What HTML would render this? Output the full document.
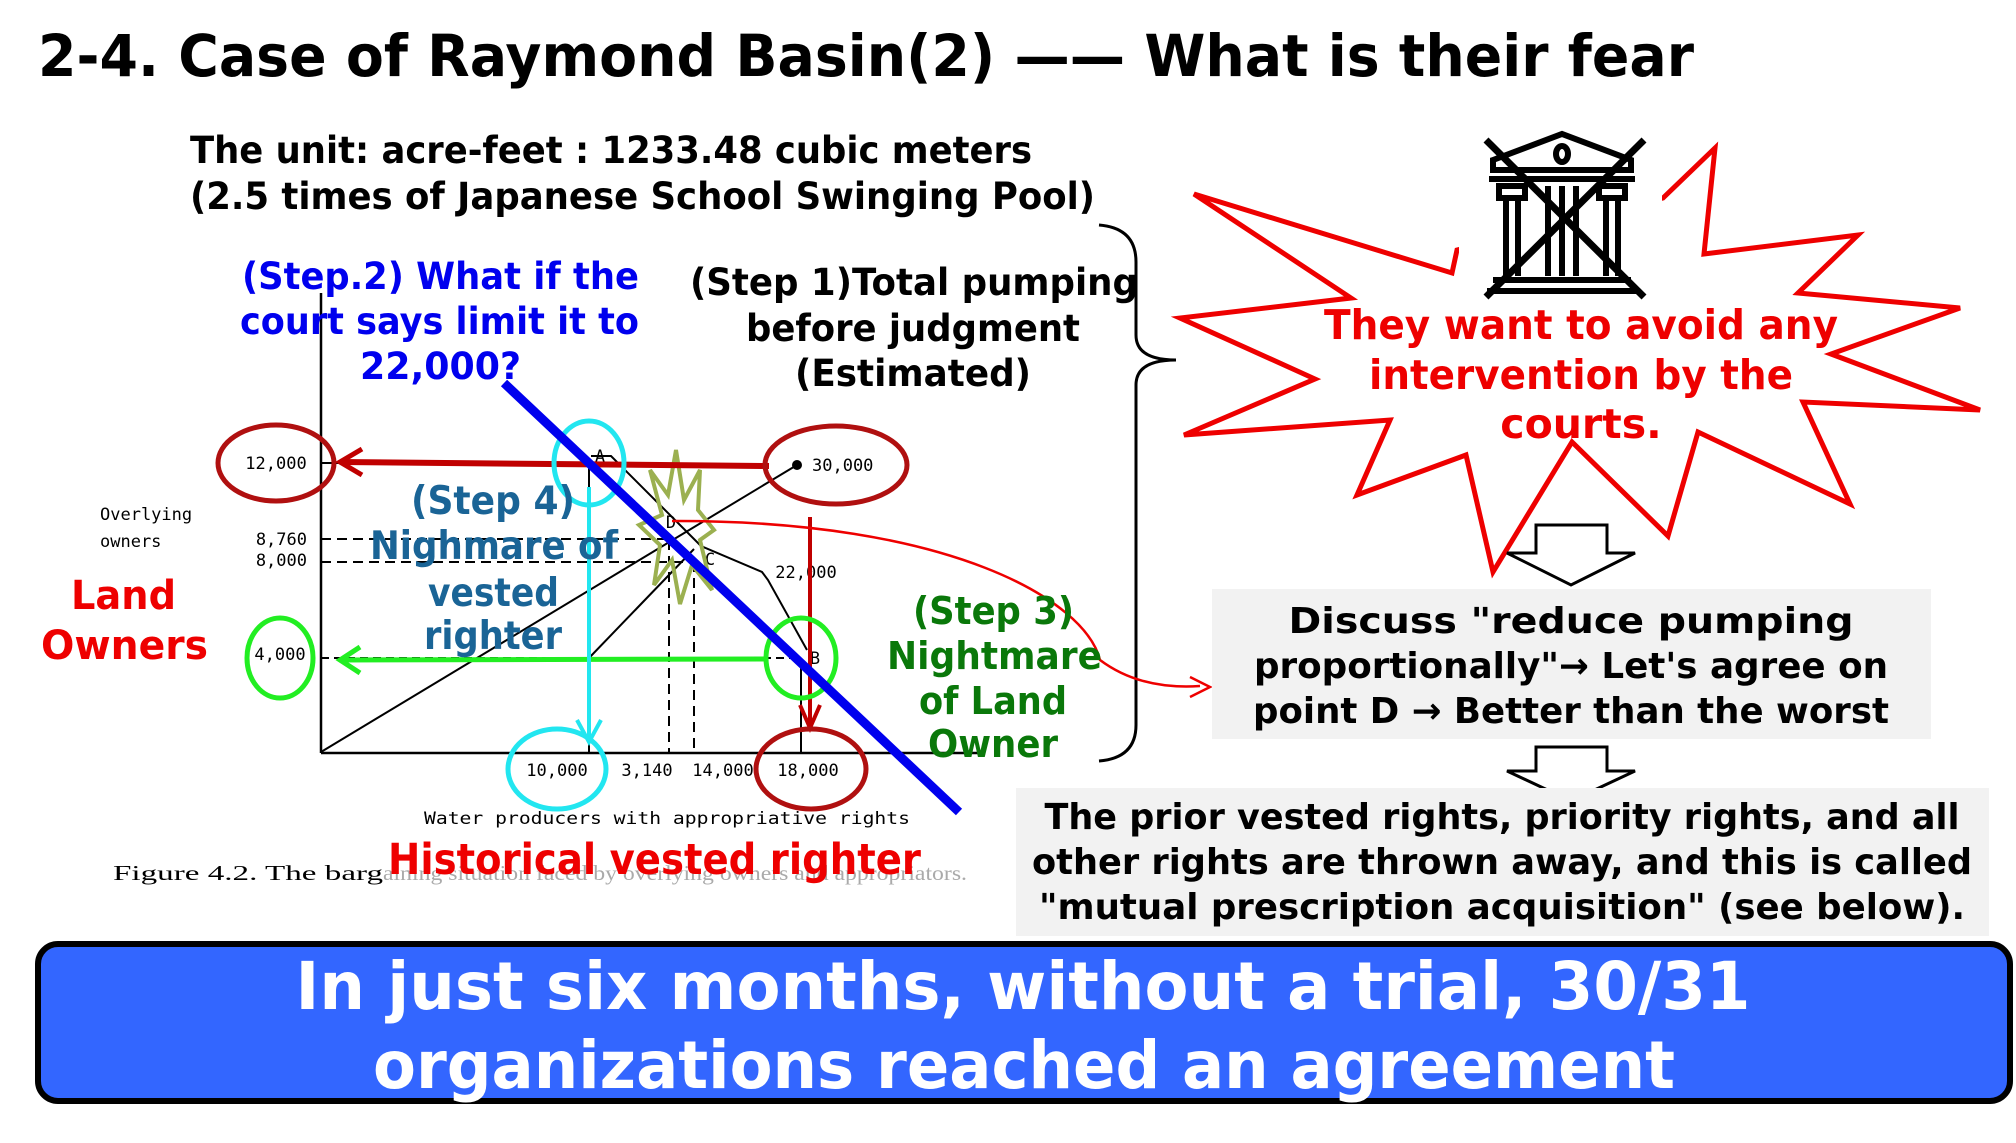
<!DOCTYPE html>
<html><head><meta charset="utf-8"><style>
html,body{margin:0;padding:0;background:#fff;}
svg{display:block;}
text{font-family:"DejaVu Sans","Liberation Sans",sans-serif;font-weight:bold;}
.m{font-family:"DejaVu Sans Mono","Liberation Mono",monospace;font-weight:normal;font-size:17px;}
</style></head><body>
<svg width="2016" height="1143" viewBox="0 0 2016 1143" xmlns="http://www.w3.org/2000/svg">
<text x="38" y="76" font-size="58" textLength="1656" lengthAdjust="spacingAndGlyphs">2-4. Case of Raymond Basin(2) —— What is their fear</text>
<text x="190" y="163" font-size="37" textLength="842" lengthAdjust="spacingAndGlyphs">The unit: acre-feet : 1233.48 cubic meters</text>
<text x="190" y="209" font-size="37" textLength="905" lengthAdjust="spacingAndGlyphs">(2.5 times of Japanese School Swinging Pool)</text>

<path d="M1099,225 Q1136,228 1136,262 L1136,335 Q1136,360 1176,360 Q1136,360 1136,385 L1136,725 Q1136,758 1099,761" fill="none" stroke="#000" stroke-width="3"/>

<line x1="321" y1="293" x2="321" y2="753" stroke="#000" stroke-width="2.5"/>
<line x1="321" y1="753" x2="985" y2="753" stroke="#000" stroke-width="2.5"/>
<line x1="321" y1="463" x2="600" y2="463" stroke="#000" stroke-width="2"/>
<line x1="321" y1="752" x2="797" y2="465" stroke="#000" stroke-width="2"/>
<circle cx="797" cy="465" r="5" fill="#000"/>
<polyline points="591,456 611,456 701,546 762,572 768,580 807,650" fill="none" stroke="#000" stroke-width="2"/>
<line x1="589" y1="658" x2="694" y2="549" stroke="#000" stroke-width="2"/>
<line x1="589" y1="463" x2="589" y2="753" stroke="#000" stroke-width="2"/>
<line x1="801" y1="658" x2="801" y2="753" stroke="#000" stroke-width="2"/>
<line x1="321" y1="658" x2="801" y2="658" stroke="#000" stroke-width="2" stroke-dasharray="8,5"/>
<line x1="321" y1="539" x2="668" y2="539" stroke="#000" stroke-width="2" stroke-dasharray="10,6"/>
<line x1="321" y1="562" x2="694" y2="562" stroke="#000" stroke-width="2" stroke-dasharray="10,6"/>
<line x1="669" y1="540" x2="669" y2="753" stroke="#000" stroke-width="2" stroke-dasharray="10,6"/>
<line x1="694" y1="562" x2="694" y2="753" stroke="#000" stroke-width="2" stroke-dasharray="10,6"/>

<text class="m" x="276" y="469" text-anchor="middle">12,000</text>
<text class="m" x="812" y="471">30,000</text>
<text class="m" x="307" y="545" text-anchor="end">8,760</text>
<text class="m" x="307" y="566" text-anchor="end">8,000</text>
<text class="m" x="280" y="660" text-anchor="middle">4,000</text>
<text class="m" x="557" y="776" text-anchor="middle">10,000</text>
<text class="m" x="647" y="776" text-anchor="middle">3,140</text>
<text class="m" x="723" y="776" text-anchor="middle">14,000</text>
<text class="m" x="808" y="776" text-anchor="middle">18,000</text>
<text class="m" x="806" y="578" text-anchor="middle">22,000</text>
<text class="m" x="600" y="462" text-anchor="middle">A</text>
<text class="m" x="671" y="528" text-anchor="middle">D</text>
<text class="m" x="710" y="565" text-anchor="middle">C</text>
<text class="m" x="815" y="664" text-anchor="middle">B</text>
<text class="m" x="100" y="520">Overlying</text>
<text class="m" x="100" y="547">owners</text>
<text class="m" x="424" y="824" textLength="486" lengthAdjust="spacingAndGlyphs">Water producers with appropriative rights</text>
<text x="113" y="880" font-size="21" style="font-family:'Liberation Serif',serif;font-weight:normal" textLength="270" lengthAdjust="spacingAndGlyphs">Figure 4.2. The barg</text>
<text x="383" y="880" font-size="21" fill="#aaa" style="font-family:'Liberation Serif',serif;font-weight:normal" textLength="584" lengthAdjust="spacingAndGlyphs">aining situation faced by overlying owners and appropriators.</text>

<polygon points="676,450 684,500 700,470 698,510 714,530 700,540 712,590 692,565 680,604 672,560 654,585 660,545 639,525 662,515 650,470 668,495" fill="none" stroke="#9bb050" stroke-width="4"/>

<line x1="769" y1="466" x2="340" y2="462" stroke="#c00000" stroke-width="6"/>
<polyline points="362,449 340,462 362,475" fill="none" stroke="#c00000" stroke-width="5"/>
<line x1="768" y1="659" x2="340" y2="660" stroke="#22ee22" stroke-width="5"/>
<polyline points="360,647 340,660 360,673" fill="none" stroke="#22ee22" stroke-width="5"/>
<line x1="589" y1="487" x2="589" y2="742" stroke="#22e6f0" stroke-width="4"/>
<polyline points="577,720 589,742 601,720" fill="none" stroke="#22e6f0" stroke-width="4"/>
<line x1="810" y1="517" x2="810" y2="725" stroke="#c00000" stroke-width="4"/>
<polyline points="800,705 810,728 820,705" fill="none" stroke="#c00000" stroke-width="4"/>

<ellipse cx="276" cy="463" rx="58" ry="38" fill="none" stroke="#b01010" stroke-width="5"/>
<ellipse cx="836" cy="465" rx="71" ry="39" fill="none" stroke="#b01010" stroke-width="5"/>
<ellipse cx="280" cy="658" rx="33" ry="40" fill="none" stroke="#22ee22" stroke-width="5"/>
<ellipse cx="801" cy="658" rx="35" ry="40" fill="none" stroke="#22ee22" stroke-width="5"/>
<ellipse cx="589" cy="463" rx="35" ry="42" fill="none" stroke="#22e6f0" stroke-width="5"/>
<ellipse cx="557" cy="769" rx="49" ry="40" fill="none" stroke="#22e6f0" stroke-width="5"/>
<ellipse cx="811" cy="769" rx="55" ry="40" fill="none" stroke="#b01010" stroke-width="5"/>

<line x1="504" y1="383" x2="959" y2="812" stroke="#0000ee" stroke-width="9"/>

<path d="M672,521 C950,520 1085,600 1100,660 Q1140,690 1200,686" fill="none" stroke="#ee0000" stroke-width="2.5"/>
<polyline points="1190,677 1210,687 1190,697" fill="none" stroke="#ee0000" stroke-width="2.5"/>

<g fill="#0000ee" font-size="37">
<text x="242" y="289" textLength="397" lengthAdjust="spacingAndGlyphs">(Step.2) What if the</text>
<text x="240" y="334" textLength="399" lengthAdjust="spacingAndGlyphs">court says limit it to</text>
<text x="360" y="379" textLength="161" lengthAdjust="spacingAndGlyphs">22,000?</text>
</g>
<g fill="#000" font-size="37">
<text x="690" y="295" textLength="448" lengthAdjust="spacingAndGlyphs">(Step 1)Total pumping</text>
<text x="746" y="341" textLength="334" lengthAdjust="spacingAndGlyphs">before judgment</text>
<text x="795" y="386" textLength="236" lengthAdjust="spacingAndGlyphs">(Estimated)</text>
</g>
<g fill="#1a6496" font-size="39">
<text x="411" y="514" textLength="164" lengthAdjust="spacingAndGlyphs">(Step 4)</text>
<text x="370" y="559" textLength="248" lengthAdjust="spacingAndGlyphs">Nighmare of</text>
<text x="428" y="606" textLength="131" lengthAdjust="spacingAndGlyphs">vested</text>
<text x="424" y="649" textLength="138" lengthAdjust="spacingAndGlyphs">righter</text>
</g>
<g fill="#0a780a" font-size="38">
<text x="913" y="624" textLength="161" lengthAdjust="spacingAndGlyphs">(Step 3)</text>
<text x="887" y="669" textLength="215" lengthAdjust="spacingAndGlyphs">Nightmare</text>
<text x="919" y="714" textLength="148" lengthAdjust="spacingAndGlyphs">of Land</text>
<text x="928" y="757" textLength="130" lengthAdjust="spacingAndGlyphs">Owner</text>
</g>
<g fill="#ee0000" font-size="40">
<text x="71" y="609" textLength="105" lengthAdjust="spacingAndGlyphs">Land</text>
<text x="41" y="659" textLength="167" lengthAdjust="spacingAndGlyphs">Owners</text>
<text x="388" y="874" font-size="43" textLength="533" lengthAdjust="spacingAndGlyphs">Historical vested righter</text>
</g>

<polygon points="1194,194 1452,273 1457,250 1663,198 1715,148 1704,254 1858,235 1798,293 1960,308 1831,354 1980,410 1803,402 1850,504 1698,432 1668,536 1572,442 1493,572 1466,455 1357,495 1390,420 1184,435 1315,379 1180,318 1351,298" fill="#fff" stroke="#ee0000" stroke-width="5" stroke-linejoin="miter"/>
<rect x="1459" y="125" width="203" height="178" fill="#fff"/>
<g fill="none" stroke="#000" stroke-width="6">
<path d="M1493,160 L1562,134 L1631,160 L1631,170 L1493,170 Z"/>
<ellipse cx="1562" cy="154" rx="6" ry="8"/>
<line x1="1489" y1="179" x2="1635" y2="179"/>
<rect x="1499" y="186" width="26" height="12"/>
<rect x="1599" y="186" width="26" height="12"/>
<line x1="1506" y1="198" x2="1506" y2="276"/><line x1="1518" y1="198" x2="1518" y2="276"/>
<line x1="1606" y1="198" x2="1606" y2="276"/><line x1="1618" y1="198" x2="1618" y2="276"/>
<line x1="1548" y1="186" x2="1548" y2="276"/><line x1="1576" y1="186" x2="1576" y2="276"/>
<line x1="1562" y1="186" x2="1562" y2="276"/>
<line x1="1493" y1="280" x2="1631" y2="280"/>
<line x1="1487" y1="291" x2="1637" y2="291"/>
</g>
<line x1="1486" y1="140" x2="1644" y2="297" stroke="#000" stroke-width="7"/>
<line x1="1644" y1="140" x2="1486" y2="297" stroke="#000" stroke-width="7"/>
<g fill="#ee0000" font-size="41" text-anchor="middle">
<text x="1581" y="339" textLength="514" lengthAdjust="spacingAndGlyphs">They want to avoid any</text>
<text x="1581" y="389" textLength="424" lengthAdjust="spacingAndGlyphs">intervention by the</text>
<text x="1581" y="438">courts.</text>
</g>

<polygon points="1536,525 1607,525 1607,553 1635,553 1571,585 1507,553 1536,553" fill="#fff" stroke="#000" stroke-width="3"/>
<rect x="1212" y="589" width="719" height="150" fill="#f2f2f2"/>
<g fill="#000" font-size="36" text-anchor="middle">
<text x="1571" y="633" textLength="565" lengthAdjust="spacingAndGlyphs">Discuss "reduce pumping</text>
<text x="1571" y="678" textLength="634" lengthAdjust="spacingAndGlyphs">proportionally"→ Let's agree on</text>
<text x="1571" y="723" textLength="636" lengthAdjust="spacingAndGlyphs">point D → Better than the worst</text>
</g>
<polygon points="1536,747 1607,747 1607,771 1635,771 1571,801 1507,771 1536,771" fill="#fff" stroke="#000" stroke-width="3"/>
<rect x="1016" y="788" width="973" height="148" fill="#f2f2f2"/>
<g fill="#000" font-size="36" text-anchor="middle">
<text x="1502" y="829" textLength="915" lengthAdjust="spacingAndGlyphs">The prior vested rights, priority rights, and all</text>
<text x="1502" y="874" textLength="940" lengthAdjust="spacingAndGlyphs">other rights are thrown away, and this is called</text>
<text x="1502" y="919" textLength="926" lengthAdjust="spacingAndGlyphs">"mutual prescription acquisition" (see below).</text>
</g>

<rect x="38" y="944" width="1972" height="157" rx="20" fill="#3366ff" stroke="#000" stroke-width="6"/>
<g fill="#fff" font-size="66" text-anchor="middle">
<text x="1023" y="1009" textLength="1455" lengthAdjust="spacingAndGlyphs">In just six months, without a trial, 30/31</text>
<text x="1024" y="1088" textLength="1302" lengthAdjust="spacingAndGlyphs">organizations reached an agreement</text>
</g>
</svg>
</body></html>
